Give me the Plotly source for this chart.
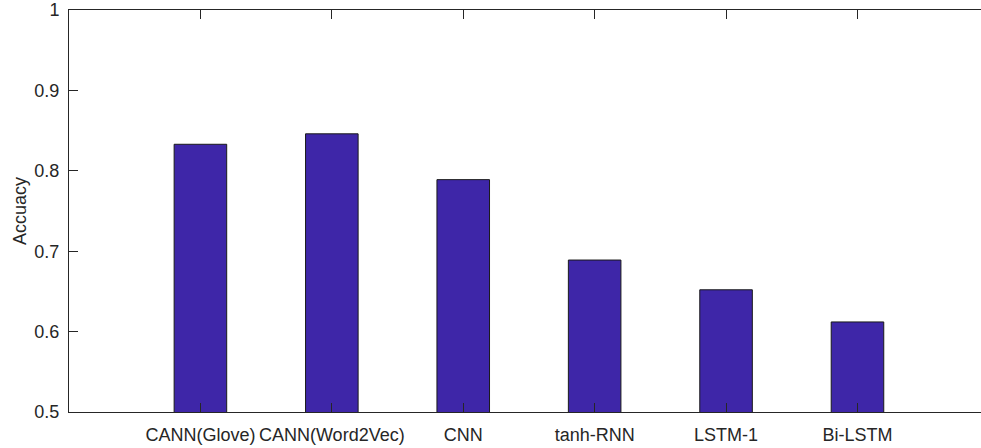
import plotly.graph_objects as go

categories = ["CANN(Glove)", "CANN(Word2Vec)", "CNN", "tanh-RNN", "LSTM-1", "Bi-LSTM"]
positions = [1, 2, 3, 4, 5, 6]
accuracy = [0.833, 0.846, 0.789, 0.689, 0.652, 0.612]
y_ticks = [0.5, 0.6, 0.7, 0.8, 0.9, 1.0]
y_tick_text = ["0.5", "0.6", "0.7", "0.8", "0.9", "1"]

FONT = "Liberation Sans, Arial, Helvetica, sans-serif"
INK = "#262626"

fig = go.Figure(go.Bar(
    x=positions, y=accuracy, width=0.4,
    marker=dict(color="#3E26A8", line=dict(color="#1a1a1a", width=1)),
    hoverinfo="skip",
))

fig.update_layout(
    width=981, height=448,
    margin=dict(l=69, r=0, t=10, b=36),
    paper_bgcolor="white", plot_bgcolor="white",
    font=dict(family=FONT, size=18, color=INK),
    showlegend=False,
    xaxis=dict(
        range=[0, 6.94], tickvals=positions, ticktext=categories,
        showline=True, linecolor=INK, linewidth=1, mirror="ticks",
        ticks="inside", ticklen=9, tickcolor=INK, showgrid=False, zeroline=False,
        ticklabelstandoff=6,
    ),
    yaxis=dict(
        range=[0.5, 1.0], tickvals=y_ticks, ticktext=y_tick_text,
        showline=True, linecolor=INK, linewidth=1, mirror=False,
        ticks="inside", ticklen=9, tickcolor=INK, showgrid=False, zeroline=False,
        ticklabelstandoff=5,
        title=dict(text="Accuacy", standoff=3, font=dict(size=18, color=INK)),
    ),
)

fig.write_html(
    "out.html",
    config={"displayModeBar": False, "staticPlot": True},
    post_script="document.body.style.margin='0';document.body.style.overflow='hidden';",
)
